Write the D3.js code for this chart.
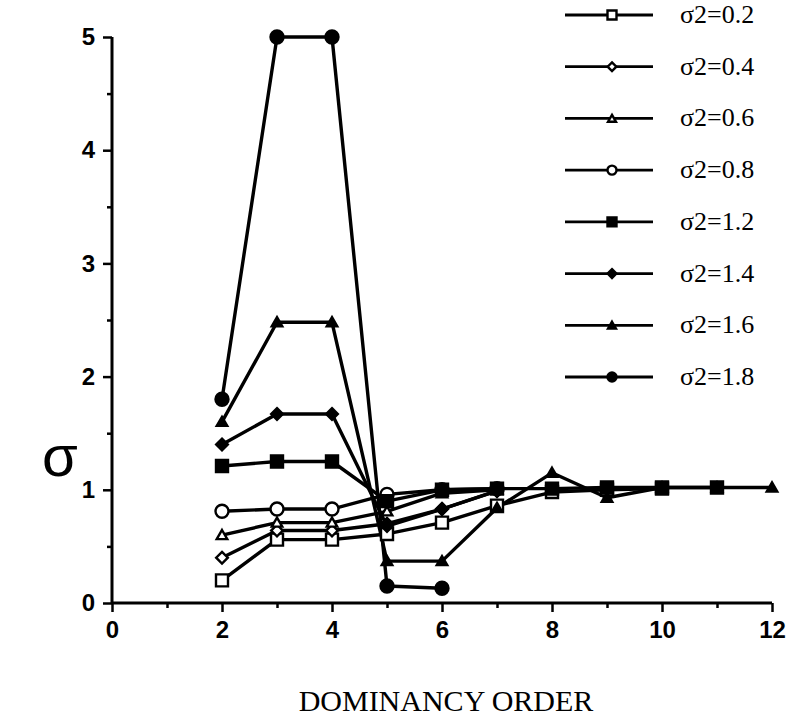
<!DOCTYPE html>
<html>
<head>
<meta charset="utf-8">
<script src="https://cdn.jsdelivr.net/npm/d3@7"></script>
<style>
  html, body { margin: 0; padding: 0; background: #fff; }
  svg { display: block; }
</style>
</head>
<body>
<svg id="chart" width="791" height="719"></svg>
<script>
// ---- data ----
const seriesLabels = ["σ2=0.2", "σ2=0.4", "σ2=0.6", "σ2=0.8", "σ2=1.2", "σ2=1.4", "σ2=1.6", "σ2=1.8"];
const seriesMarkers = ["square-open", "diamond-open", "triangle-open", "circle-open",
                       "square", "diamond", "triangle", "circle"];
const s02x = [2, 3, 4, 5, 6, 7, 8, 9, 10];
const s02y = [0.2, 0.56, 0.56, 0.61, 0.71, 0.86, 0.98, 1.0, 1.01];
const s04x = [2, 3, 4, 5, 6, 7];
const s04y = [0.4, 0.64, 0.64, 0.7, 0.83, 0.99];
const s06x = [2, 3, 4, 5, 6, 7];
const s06y = [0.6, 0.71, 0.71, 0.81, 0.97, 1.0];
const s08x = [2, 3, 4, 5, 6, 7];
const s08y = [0.81, 0.83, 0.83, 0.96, 1.0, 1.01];
const s12x = [2, 3, 4, 5, 6, 7, 8, 9, 10, 11];
const s12y = [1.21, 1.25, 1.25, 0.9, 1.0, 1.01, 1.01, 1.02, 1.02, 1.02];
const s14x = [2, 3, 4, 5, 6, 7];
const s14y = [1.4, 1.67, 1.67, 0.68, 0.83, 0.99];
const s16x = [2, 3, 4, 5, 6, 7, 8, 9, 10, 11, 12];
const s16y = [1.6, 2.48, 2.48, 0.37, 0.37, 0.84, 1.15, 0.93, 1.02, 1.02, 1.02];
const s18x = [2, 3, 4, 5, 6];
const s18y = [1.8, 5.0, 5.0, 0.15, 0.13];
const xTicks = [0, 2, 4, 6, 8, 10, 12];
const yTicks = [0, 1, 2, 3, 4, 5];
const xTitle = "DOMINANCY ORDER";
const yTitle = "σ";

const seriesX = [s02x, s04x, s06x, s08x, s12x, s14x, s16x, s18x];
const seriesY = [s02y, s04y, s06y, s08y, s12y, s14y, s16y, s18y];

// ---- drawing ----
const svg = d3.select("#chart");
const x = d3.scaleLinear().domain([0, 12]).range([112, 772]);
const y = d3.scaleLinear().domain([0, 5]).range([603, 37]);

const sans = "'Liberation Sans', Arial, sans-serif";
const serif = "'Liberation Serif', 'Times New Roman', serif";

// axes
const xAxis = d3.axisBottom(x).tickValues(xTicks).tickSize(9).tickPadding(9).tickFormat(d3.format("d"));
const yAxis = d3.axisLeft(y).tickValues(yTicks).tickSize(9).tickPadding(8).tickFormat(d3.format("d"));

const gx = svg.append("g").attr("transform", `translate(0,${y(0)})`).call(xAxis);
const gy = svg.append("g").attr("transform", `translate(${x(0)},0)`).call(yAxis);

// minor ticks
const xMinor = d3.axisBottom(x).tickValues(d3.range(1, 12, 2)).tickSize(5).tickFormat("");
const yMinor = d3.axisLeft(y).tickValues(d3.range(0.5, 5, 1)).tickSize(5).tickFormat("");
const gxm = svg.append("g").attr("transform", `translate(0,${y(0)})`).call(xMinor);
const gym = svg.append("g").attr("transform", `translate(${x(0)},0)`).call(yMinor);

[gx, gy, gxm, gym].forEach(g => {
  g.select(".domain").attr("stroke", "#000").attr("stroke-width", 3).attr("d", null);
  g.selectAll(".tick line").attr("stroke", "#000").attr("stroke-width", 2.5);
  g.selectAll("text").attr("fill", "#000").attr("font-family", sans)
    .attr("font-weight", "bold").attr("font-size", 24);
});
gx.select(".domain").attr("d", `M${x(0)},0H${x(12)}`);
gy.select(".domain").attr("d", `M0,${y(0)}V${y(5)}`);
gxm.select(".domain").remove();
gym.select(".domain").remove();

// axis titles
svg.append("text").attr("x", 446).attr("y", 711).attr("text-anchor", "middle")
  .attr("font-family", serif).attr("font-size", 30).attr("fill", "#000").text(xTitle);
svg.append("text").attr("x", 60).attr("y", 476).attr("text-anchor", "middle")
  .attr("font-family", sans).attr("font-size", 58).attr("fill", "#000").text(yTitle);

// marker drawing
function drawMarker(g, type, cx, cy, s) {
  const filled = !type.endsWith("-open");
  const base = type.replace("-open", "");
  let sym;
  if (base === "square") sym = d3.symbolSquare;
  else if (base === "diamond") sym = d3.symbolDiamond2;
  else if (base === "triangle") sym = d3.symbolTriangle2;
  else sym = d3.symbolCircle;
  let area = s * s;
  if (base === "circle") area = Math.PI * (s / 2) * (s / 2);
  if (base === "diamond") area = s * s * 0.6;
  if (base === "triangle") area = s * s * 0.55;
  g.append("path")
    .attr("d", d3.symbol().type(sym).size(area)())
    .attr("transform", `translate(${cx},${cy + (base === "triangle" ? 1 : 0)})`)
    .attr("fill", filled ? "#000" : "#fff")
    .attr("stroke", "#000")
    .attr("stroke-width", 2.4);
}

const line = d3.line().x(d => x(d[0])).y(d => y(d[1]));
const plot = svg.append("g");
seriesX.forEach((xs, i) => {
  const pts = xs.map((xv, j) => [xv, seriesY[i][j]]);
  plot.append("path").datum(pts).attr("d", line)
    .attr("fill", "none").attr("stroke", "#000").attr("stroke-width", 3.4)
    .attr("stroke-linejoin", "round");
});
seriesX.forEach((xs, i) => {
  xs.forEach((xv, j) => {
    const type = seriesMarkers[i];
    const sz = type.startsWith("circle") ? 13 : 12;
    drawMarker(plot, type, x(xv), y(seriesY[i][j]), sz);
  });
});

// legend
const legend = svg.append("g");
const legY = d3.scaleLinear().domain([0, 7]).range([15, 377]);
seriesLabels.forEach((lab, i) => {
  const ly = legY(i);
  legend.append("line").attr("x1", 565).attr("x2", 653).attr("y1", ly).attr("y2", ly)
    .attr("stroke", "#000").attr("stroke-width", 2.8);
  drawMarker(legend, seriesMarkers[i], 612, ly, 9);
  legend.append("text").attr("x", 680).attr("y", ly + 8)
    .attr("font-family", serif).attr("font-size", 26).attr("fill", "#000").text(lab);
});
</script>
</body>
</html>
